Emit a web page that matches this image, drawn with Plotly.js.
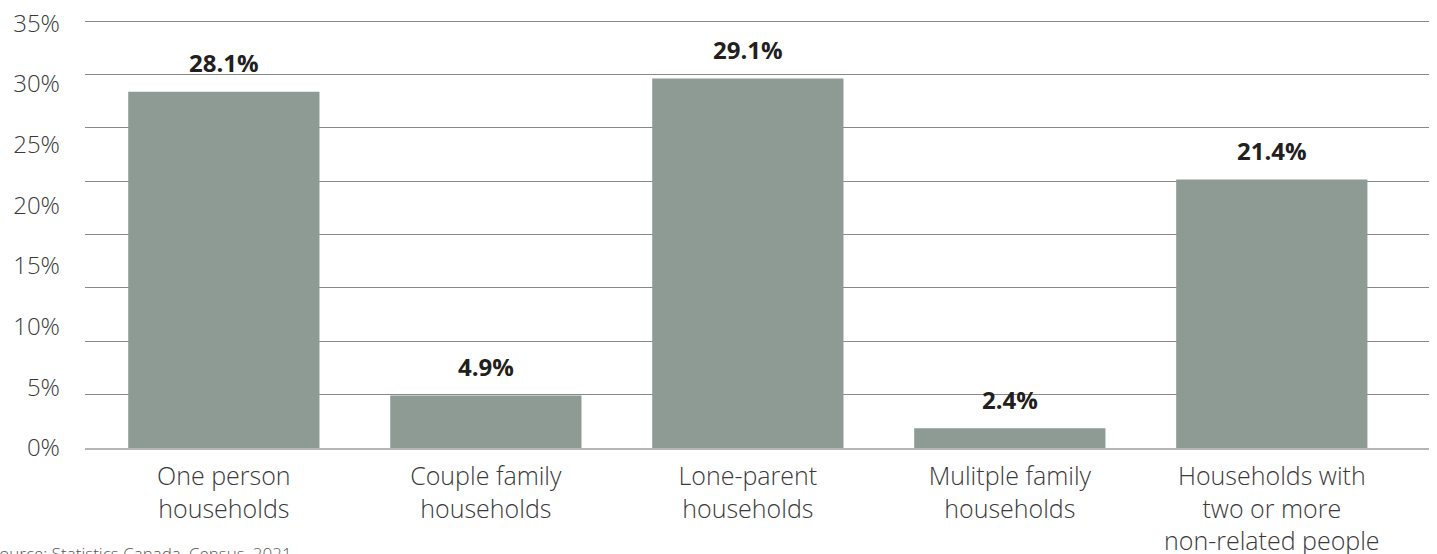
<!DOCTYPE html>
<html>
<head>
<meta charset="utf-8">
<script src="https://cdn.plot.ly/plotly-3.0.1.min.js"></script>
<style>
  html, body { margin: 0; padding: 0; background: #ffffff; }
  #chart { width: 1437px; height: 554px; }
</style>
</head>
<body>
<div id="chart"></div>
<script>
// ---- data ----
const categories = [
  'One person<br>households',
  'Couple family<br>households',
  'Lone-parent<br>households',
  'Mulitple family<br>households',
  'Households with<br>two or more<br>non-related people'
];
const shares = [28.1, 4.9, 29.1, 2.4, 21.4];
const yTickVals = [0, 5, 10, 15, 20, 25, 30, 35];
const yTickText = ['0%', '5%', '10%', '15%', '20%', '25%', '30%', '35%'];
const gridVals = [1, 2, 3, 4, 5, 6, 7, 8];
const sourceNote = 'Source: Statistics Canada, Census, 2021';

// ---- styles ----
const barColor = '#8d9b94';
const fontFamily = '"Open Sans", "Noto Sans", sans-serif';

const barTrace = {
  type: 'bar',
  x: categories,
  y: shares,
  marker: { color: barColor },
  width: 0.73,
  hoverinfo: 'skip',
  yaxis: 'y'
};
// invisible helper traces so the label axis and the grid axis are drawn
const labelAxisTrace = {
  type: 'scatter', mode: 'none', x: categories, y: shares,
  yaxis: 'y2', hoverinfo: 'skip', showlegend: false
};
const gridAxisTrace = {
  type: 'scatter', mode: 'none', x: categories, y: shares,
  yaxis: 'y3', hoverinfo: 'skip', showlegend: false
};

const annotations = categories.map((c, i) => ({
  x: c,
  y: shares[i],
  xref: 'x',
  yref: 'y',
  text: '<b>' + shares[i].toFixed(1) + '%</b>',
  showarrow: false,
  yanchor: 'middle',
  yshift: 29,
  font: { family: fontFamily, size: 24, color: '#231f20' }
}));

annotations.push({
  x: -0.072,
  y: -0.245,
  xref: 'paper',
  yref: 'paper',
  xanchor: 'left',
  yanchor: 'middle',
  text: sourceNote,
  showarrow: false,
  font: { family: fontFamily, size: 17, color: '#555555', weight: 300 }
});

const layout = {
  width: 1437,
  height: 554,
  margin: { l: 85, r: 8, t: 19, b: 106 },
  paper_bgcolor: '#ffffff',
  plot_bgcolor: 'rgba(0,0,0,0)',
  showlegend: false,
  font: { family: fontFamily, color: '#3a3a3a' },
  xaxis: {
    type: 'category',
    range: [-0.53, 4.6],
    showgrid: false,
    zeroline: false,
    showline: true,
    linecolor: '#b5b5b5',
    linewidth: 2,
    ticks: '',
    ticklabelstandoff: 5,
    tickfont: { family: fontFamily, size: 25, color: '#3a3a3a', weight: 300 },
    fixedrange: true
  },
  yaxis: {
    range: [0.9, 33.65],
    showgrid: false,
    zeroline: false,
    showticklabels: false,
    ticks: '',
    fixedrange: true
  },
  yaxis2: {
    overlaying: 'y',
    side: 'left',
    range: [0, 35.35],
    tickvals: yTickVals,
    ticktext: yTickText,
    showgrid: false,
    zeroline: false,
    ticks: '',
    ticklabelstandoff: 24,
    tickfont: { family: fontFamily, size: 24, color: '#3a3a3a', weight: 300 },
    fixedrange: true
  },
  yaxis3: {
    overlaying: 'y',
    side: 'right',
    range: [0, 8.04],
    tickvals: gridVals,
    showgrid: true,
    gridcolor: '#888888',
    gridwidth: 1,
    zeroline: false,
    showticklabels: false,
    ticks: '',
    fixedrange: true
  },
  annotations: annotations,
  bargap: 0.27
};

Plotly.newPlot('chart', [barTrace, labelAxisTrace, gridAxisTrace], layout, { displayModeBar: false, staticPlot: true });
</script>
</body>
</html>
